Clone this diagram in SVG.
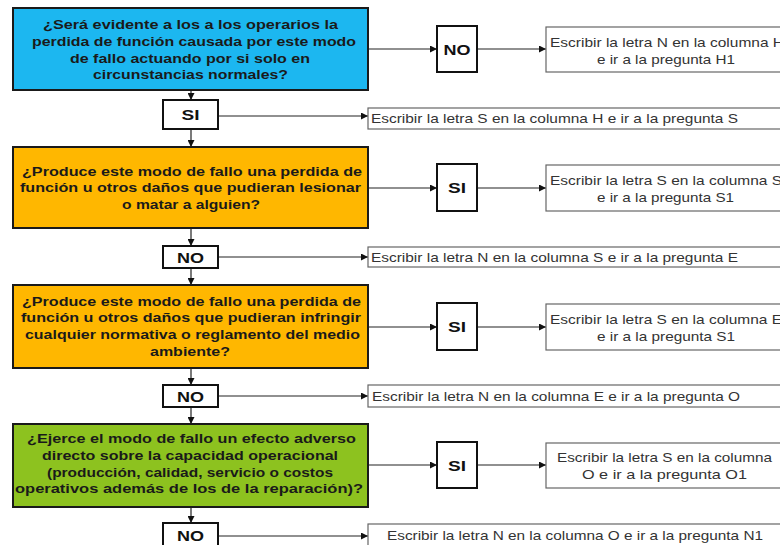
<svg xmlns="http://www.w3.org/2000/svg" width="780" height="545" viewBox="0 0 780 545">
<style>
.q{stroke:#1a1a1a;stroke-width:2}
.blue{fill:#1cb7f0}.orange{fill:#ffb700}.green{fill:#8dc21f}
.qt{font-family:"Liberation Sans",Arial,sans-serif;font-weight:bold;font-size:13px;fill:#1a1a1a;text-anchor:middle}
.d{fill:#fff;stroke:#111;stroke-width:2}
.dt{font-family:"Liberation Sans",Arial,sans-serif;font-weight:bold;font-size:15px;fill:#111;text-anchor:middle}
.r{fill:#fff;stroke:#666;stroke-width:1.2}
.rt{font-family:"Liberation Sans",Arial,sans-serif;font-size:13px;fill:#333}
.c{stroke:#222;stroke-width:1.2;fill:none;marker-end:url(#ah)}
</style>
<defs>
<marker id="ah" viewBox="0 0 10 10" refX="10" refY="5" markerWidth="7" markerHeight="7" markerUnits="userSpaceOnUse" orient="auto">
<path d="M0,0 L10,5 L0,10 z" fill="#111"/>
</marker>
</defs>
<rect width="780" height="545" fill="#fff"/>
<g id="connectors">
<line class="c" x1="191" y1="90" x2="191" y2="100"/>
<line class="c" x1="191" y1="129" x2="191" y2="147"/>
<line class="c" x1="191" y1="228" x2="191" y2="246"/>
<line class="c" x1="191" y1="268" x2="191" y2="285"/>
<line class="c" x1="191" y1="368" x2="191" y2="385"/>
<line class="c" x1="191" y1="407" x2="191" y2="424"/>
<line class="c" x1="191" y1="507" x2="191" y2="523"/>
<line class="c" x1="369" y1="49" x2="437" y2="49"/>
<line class="c" x1="477" y1="49" x2="546" y2="49"/>
<line class="c" x1="369" y1="188" x2="437" y2="188"/>
<line class="c" x1="477" y1="188" x2="546" y2="188"/>
<line class="c" x1="369" y1="327" x2="437" y2="327"/>
<line class="c" x1="477" y1="327" x2="546" y2="327"/>
<line class="c" x1="369" y1="465" x2="437" y2="465"/>
<line class="c" x1="477" y1="465" x2="546" y2="465"/>
<line class="c" x1="218" y1="116" x2="368" y2="116"/>
<line class="c" x1="218" y1="257" x2="368" y2="257"/>
<line class="c" x1="218" y1="396" x2="368" y2="396"/>
<line class="c" x1="218" y1="536" x2="368" y2="536"/>
</g>
<g id="q1">
<rect class="q blue" x="13" y="8" width="355" height="82"/>
<text class="qt" x="190.5" y="29.3" textLength="295" lengthAdjust="spacingAndGlyphs">¿Será evidente a los a los operarios la</text>
<text class="qt" x="194" y="46" textLength="324" lengthAdjust="spacingAndGlyphs">perdida de función causada por este modo</text>
<text class="qt" x="190" y="62.7" textLength="240" lengthAdjust="spacingAndGlyphs">de fallo actuando por si solo en</text>
<text class="qt" x="190.5" y="79.4" textLength="195" lengthAdjust="spacingAndGlyphs">circunstancias normales?</text>
</g>
<g id="q2">
<rect class="q orange" x="13" y="147" width="355" height="81"/>
<text class="qt" x="192" y="175.7" textLength="340" lengthAdjust="spacingAndGlyphs">¿Produce este modo de fallo una perdida de</text>
<text class="qt" x="190.5" y="192.3" textLength="341" lengthAdjust="spacingAndGlyphs">función u otros daños que pudieran lesionar</text>
<text class="qt" x="191" y="209" textLength="138" lengthAdjust="spacingAndGlyphs">o matar a alguien?</text>
</g>
<g id="q3">
<rect class="q orange" x="13" y="285" width="355" height="83"/>
<text class="qt" x="191.5" y="305.7" textLength="339" lengthAdjust="spacingAndGlyphs">¿Produce este modo de fallo una perdida de</text>
<text class="qt" x="191" y="322.3" textLength="340" lengthAdjust="spacingAndGlyphs">función u otros daños que pudieran infringir</text>
<text class="qt" x="192.5" y="339" textLength="335" lengthAdjust="spacingAndGlyphs">cualquier normativa o reglamento del medio</text>
<text class="qt" x="190" y="355.7" textLength="80" lengthAdjust="spacingAndGlyphs">ambiente?</text>
</g>
<g id="q4">
<rect class="q green" x="13" y="424" width="355" height="83"/>
<text class="qt" x="191.5" y="443.3" textLength="329" lengthAdjust="spacingAndGlyphs">¿Ejerce el modo de fallo un efecto adverso</text>
<text class="qt" x="190" y="460" textLength="296" lengthAdjust="spacingAndGlyphs">directo sobre la capacidad operacional</text>
<text class="qt" x="190" y="476.7" textLength="286" lengthAdjust="spacingAndGlyphs">(producción, calidad, servicio o costos</text>
<text class="qt" x="189" y="493.3" textLength="348" lengthAdjust="spacingAndGlyphs">operativos además de los de la reparación)?</text>
</g>
<g id="d1si"><rect class="d" x="163" y="100" width="55" height="29"/><text class="dt" x="190.5" y="120" textLength="18" lengthAdjust="spacingAndGlyphs">SI</text></g>
<g id="d1no"><rect class="d" x="437" y="26" width="40" height="46"/><text class="dt" x="457" y="54.5" textLength="27" lengthAdjust="spacingAndGlyphs">NO</text></g>
<g id="d2no"><rect class="d" x="163" y="246" width="55" height="22"/><text class="dt" x="190.5" y="262.5" textLength="27" lengthAdjust="spacingAndGlyphs">NO</text></g>
<g id="d2si"><rect class="d" x="437" y="164" width="40" height="47"/><text class="dt" x="457" y="193" textLength="18" lengthAdjust="spacingAndGlyphs">SI</text></g>
<g id="d3no"><rect class="d" x="163" y="385" width="55" height="22"/><text class="dt" x="190.5" y="401.5" textLength="27" lengthAdjust="spacingAndGlyphs">NO</text></g>
<g id="d3si"><rect class="d" x="437" y="303" width="40" height="47"/><text class="dt" x="457" y="332" textLength="18" lengthAdjust="spacingAndGlyphs">SI</text></g>
<g id="d4no"><rect class="d" x="163" y="523" width="55" height="26"/><text class="dt" x="190.5" y="541" textLength="27" lengthAdjust="spacingAndGlyphs">NO</text></g>
<g id="d4si"><rect class="d" x="437" y="442" width="40" height="46"/><text class="dt" x="457" y="470.5" textLength="18" lengthAdjust="spacingAndGlyphs">SI</text></g>
<g id="rH1">
<rect class="r" x="546" y="27" width="240" height="45"/>
<text class="rt" x="550" y="46.5" textLength="234" lengthAdjust="spacingAndGlyphs">Escribir la letra N en la columna H</text>
<text class="rt" x="597" y="63.5" textLength="138" lengthAdjust="spacingAndGlyphs">e ir a la pregunta H1</text>
</g>
<g id="rS">
<rect class="r" x="368" y="108" width="420" height="21"/>
<text class="rt" x="371" y="123" textLength="367" lengthAdjust="spacingAndGlyphs">Escribir la letra S en la columna H e ir a la pregunta S</text>
</g>
<g id="rS1">
<rect class="r" x="546" y="165" width="240" height="46"/>
<text class="rt" x="550" y="185" textLength="232" lengthAdjust="spacingAndGlyphs">Escribir la letra S en la columna S</text>
<text class="rt" x="597" y="202" textLength="137" lengthAdjust="spacingAndGlyphs">e ir a la pregunta S1</text>
</g>
<g id="rE">
<rect class="r" x="368" y="247" width="420" height="20"/>
<text class="rt" x="371" y="262" textLength="367" lengthAdjust="spacingAndGlyphs">Escribir la letra N en la columna S e ir a la pregunta E</text>
</g>
<g id="rES1">
<rect class="r" x="546" y="304" width="240" height="46"/>
<text class="rt" x="550" y="324" textLength="232" lengthAdjust="spacingAndGlyphs">Escribir la letra S en la columna E</text>
<text class="rt" x="597" y="341" textLength="138" lengthAdjust="spacingAndGlyphs">e ir a la pregunta S1</text>
</g>
<g id="rO">
<rect class="r" x="368" y="385" width="420" height="22"/>
<text class="rt" x="372" y="401" textLength="368" lengthAdjust="spacingAndGlyphs">Escribir la letra N en la columna E e ir a la pregunta O</text>
</g>
<g id="rO1">
<rect class="r" x="546" y="443" width="240" height="45"/>
<text class="rt" x="557" y="462" textLength="215" lengthAdjust="spacingAndGlyphs">Escribir la letra S en la columna</text>
<text class="rt" x="582" y="479" textLength="165" lengthAdjust="spacingAndGlyphs">O e ir a la pregunta O1</text>
</g>
<g id="rN1">
<rect class="r" x="368" y="524" width="420" height="25"/>
<text class="rt" x="387" y="540" textLength="376" lengthAdjust="spacingAndGlyphs">Escribir la letra N en la columna O e ir a la pregunta N1</text>
</g>
</svg>
